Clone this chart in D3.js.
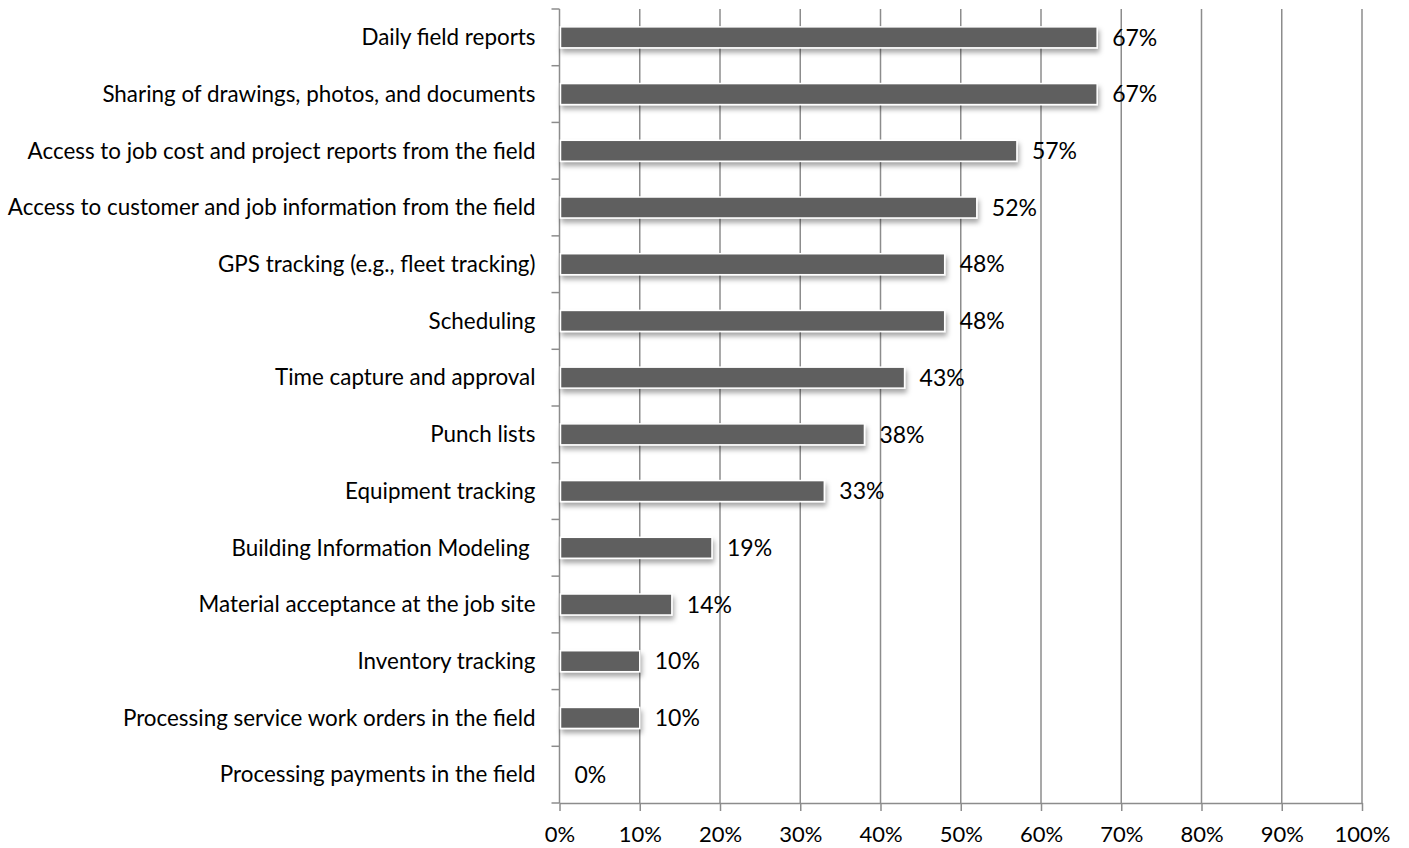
<!DOCTYPE html>
<html>
<head>
<meta charset="utf-8">
<script src="https://cdn.jsdelivr.net/npm/d3@7"></script>
<style>
  body { margin: 0; background: #fff; }
  svg text { font-family: Lato, "Open Sans", sans-serif; fill: #000; }
</style>
</head>
<body>
<svg id="chart" width="1409" height="848"></svg>
<script>
const categories = [
    "Daily field reports",
    "Sharing of drawings, photos, and documents",
    "Access to job cost and project reports from the field",
    "Access to customer and job information from the field",
    "GPS tracking (e.g., fleet tracking)",
    "Scheduling",
    "Time capture and approval",
    "Punch lists",
    "Equipment tracking",
    "Building Information Modeling ",
    "Material acceptance at the job site",
    "Inventory tracking",
    "Processing service work orders in the field",
    "Processing payments in the field"
];
const values = [67, 67, 57, 52, 48, 48, 43, 38, 33, 19, 14, 10, 10, 0];
const xTicks = [0, 10, 20, 30, 40, 50, 60, 70, 80, 90, 100];

const svg = d3.select("#chart");
const margin = { top: 9, right: 47, bottom: 45, left: 559.5 };
const width = 1409 - margin.left - margin.right;
const height = 848 - margin.top - margin.bottom;

const x = d3.scaleLinear().domain([0, 100]).range([0, width]);
const y = d3.scaleBand().domain(categories).range([0, height]).paddingInner(0.63).paddingOuter(0.315);

// shadow under the bars
const defs = svg.append("defs");
const f = defs.append("filter").attr("id", "shadow")
    .attr("x", "-5%").attr("y", "-30%").attr("width", "115%").attr("height", "190%");
f.append("feDropShadow").attr("dx", 1.5).attr("dy", 4).attr("stdDeviation", 2.5)
    .attr("flood-color", "#000").attr("flood-opacity", 0.35);

const g = svg.append("g").attr("transform", `translate(${margin.left},${margin.top})`);

// vertical gridlines
g.append("g")
    .selectAll("line")
    .data(xTicks.slice(1))
    .enter().append("line")
    .attr("x1", d => x(d)).attr("x2", d => x(d))
    .attr("y1", 0).attr("y2", height)
    .attr("stroke", "#8c8c8c")
    .attr("stroke-width", 1.5);

// bottom axis
const xAxis = g.append("g")
    .attr("transform", `translate(0,${height})`)
    .call(d3.axisBottom(x).tickValues(xTicks).tickSize(8).tickSizeOuter(0).tickPadding(15).tickFormat(d => d + "%"));
xAxis.selectAll("line").attr("stroke", "#8c8c8c").attr("stroke-width", 1.5);
xAxis.select(".domain").attr("stroke", "#8c8c8c").attr("stroke-width", 1.5);
xAxis.selectAll("text").style("font-size", "22px").attr("dy", "0.71em");

// left axis with ticks between categories
const yl = g.append("g");
const step = height / categories.length;
yl.selectAll("line")
    .data(d3.range(categories.length + 1))
    .enter().append("line")
    .attr("x1", -8).attr("x2", 0)
    .attr("y1", d => d * step).attr("y2", d => d * step)
    .attr("stroke", "#8c8c8c").attr("stroke-width", 1.5);
yl.append("line")
    .attr("x1", 0).attr("x2", 0).attr("y1", 0).attr("y2", height)
    .attr("stroke", "#8c8c8c").attr("stroke-width", 1.5);

yl.selectAll("text")
    .data(categories)
    .enter().append("text")
    .attr("x", -24)
    .attr("y", d => y(d) + y.bandwidth() / 2)
    .attr("dy", "0.35em")
    .attr("text-anchor", "end")
    .style("font-size", "22.4px")
    .style("white-space", "pre")
    .text(d => d);

// bars
g.append("g")
    .selectAll("rect")
    .data(values.map((v, i) => ({ cat: categories[i], v })).filter(d => d.v > 0))
    .enter().append("rect")
    .attr("x", 1)
    .attr("y", d => y(d.cat))
    .attr("width", d => x(d.v) - 1)
    .attr("height", y.bandwidth())
    .attr("fill", "#5f5f5f")
    .attr("stroke", "#fff")
    .attr("stroke-width", 1.5)
    .attr("filter", "url(#shadow)");

// value labels
g.append("g")
    .selectAll("text")
    .data(values)
    .enter().append("text")
    .attr("x", d => x(d) + 15)
    .attr("y", (d, i) => y(categories[i]) + y.bandwidth() / 2)
    .attr("dy", "0.36em")
    .style("font-size", "23px")
    .text(d => d + "%");
</script>
</body>
</html>
